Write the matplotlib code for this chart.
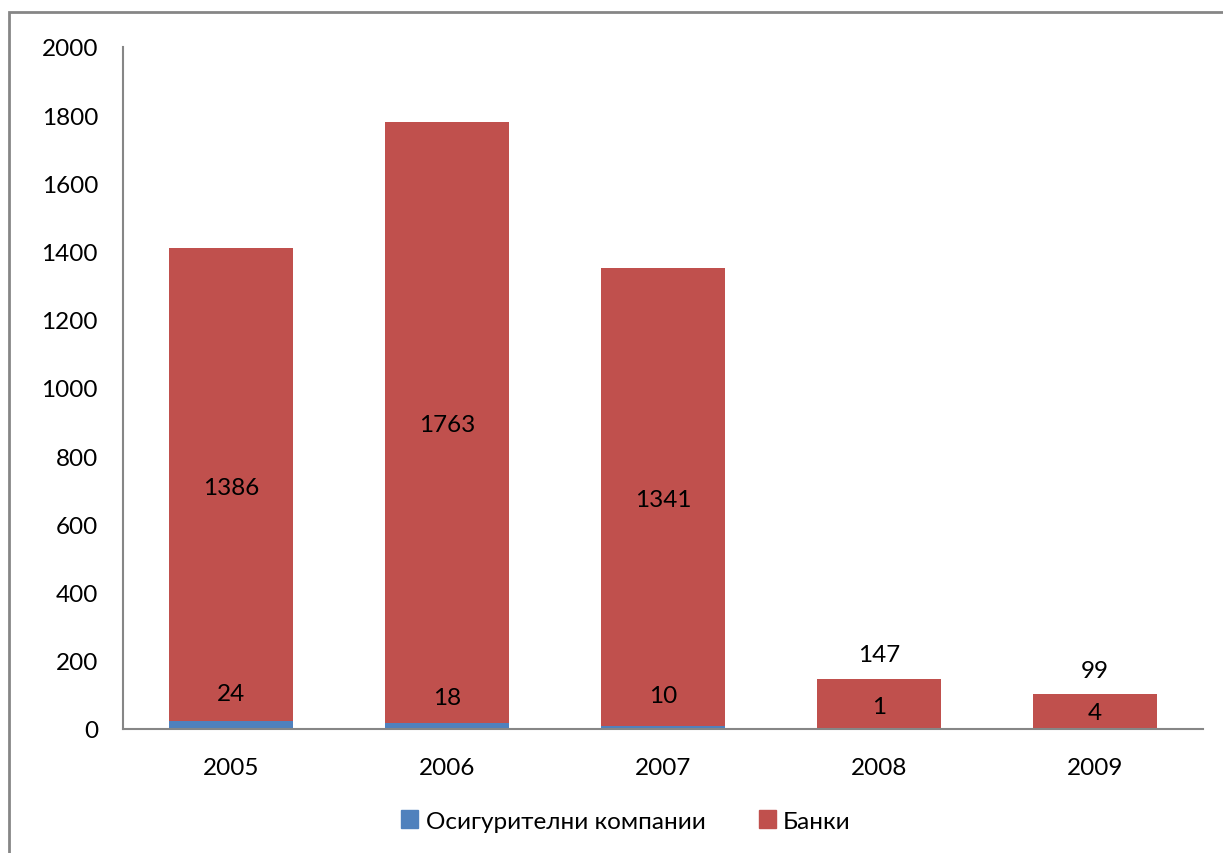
import numpy as np
import matplotlib.pyplot as plt
from matplotlib.patches import Rectangle, Patch

years = ['2005', '2006', '2007', '2008', '2009']
osig = [24, 18, 10, 1, 4]
banki = [1386, 1763, 1341, 147, 99]
series_names = ['Осигурителни компании', 'Банки']

# where the small blue-segment labels sit (data units)
osig_lbl_y = [103, 91, 97, 67, 47]

plt.rcParams['font.family'] = ['Lato', 'DejaVu Sans']
BLUE = '#4F81BD'
RED = '#C0504D'
GRAY = '#868686'
FS = 17.5

fig = plt.figure(figsize=(12.23, 8.54), dpi=100)
ax = fig.add_axes([123 / 1223, 1 - 730 / 854, 1080 / 1223, 682 / 854])

x = np.arange(len(years))
w = 0.57
ax.bar(x, osig, w, color=BLUE, label=series_names[0])
ax.bar(x, banki, w, bottom=osig, color=RED, label=series_names[1])

for i in range(len(years)):
    ax.text(x[i], osig_lbl_y[i], str(osig[i]), ha='center', va='center', fontsize=FS)
    top = osig[i] + banki[i]
    if banki[i] > 300:
        ax.text(x[i], osig[i] + banki[i] / 2 - 8, str(banki[i]), ha='center', va='center', fontsize=FS)
    else:
        ax.text(x[i], top + 70, str(banki[i]), ha='center', va='center', fontsize=FS)

ax.set_xlim(-0.5, len(years) - 0.5)
ax.set_ylim(0, 2000)
ax.set_yticks(range(0, 2001, 200))
ax.set_xticks(x)
ax.set_xticklabels(years)
ax.tick_params(axis='both', length=0, labelsize=FS)
ax.tick_params(axis='y', pad=18)
ax.tick_params(axis='x', pad=20)
for s in ['top', 'right']:
    ax.spines[s].set_visible(False)
for s in ['left', 'bottom']:
    ax.spines[s].set_color(GRAY)
    ax.spines[s].set_linewidth(1.5)

handles = [Patch(color=BLUE), Patch(color=RED)]
fig.legend(handles, series_names, loc='center', bbox_to_anchor=(626 / 1223, 1 - 822 / 854),
           ncol=2, frameon=False, fontsize=FS, handlelength=0.7, handleheight=0.7,
           handletextpad=0.3, columnspacing=2.2)

# chart area border
fig.patches.append(Rectangle((9 / 1223, -0.1), 1.2, 1 - 13 / 854 + 0.1, transform=fig.transFigure,
                             fill=False, edgecolor=GRAY, linewidth=2))

fig.savefig('out.png', dpi=100)
